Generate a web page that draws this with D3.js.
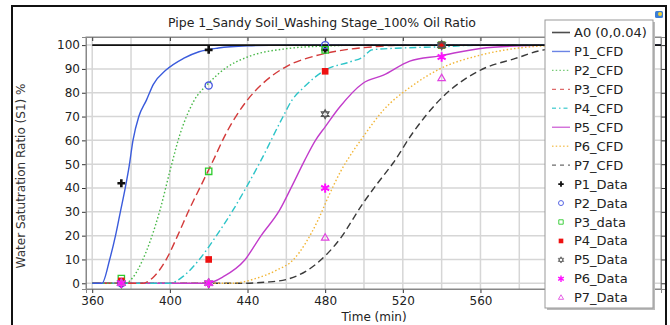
<!DOCTYPE html>
<html>
<head>
<meta charset="utf-8">
<script src="https://cdn.jsdelivr.net/npm/d3@7"></script>
<style>
    body { margin: 0; background: #fff; }
    svg text { font-family: "DejaVu Sans", sans-serif; }
</style>
</head>
<body>
<svg id="chart" width="670" height="325"></svg>
<script>
// CFD curves, [time (min), water saturation %]
const a0Line = [[360, 100], [653, 100]];
const p1Cfd = [[360, 0], [365, 0], [369, 10], [372, 20], [374.5, 30], [377, 40], [379, 49], [381, 60],
    [384, 70], [388, 77], [391.5, 83.5], [398, 89.5], [407, 94.4], [415, 97.2], [425, 98.8], [440, 99.7], [460, 100], [653, 100]];
const p2Cfd = [[360, 0], [377, 0], [381, 2.5], [386, 9.8], [390, 18], [395, 31], [400, 47], [405, 62],
    [412, 76], [420, 84], [429, 90.5], [440, 95], [460, 98.5], [480, 99.6], [500, 100], [653, 100]];
const p3Cfd = [[360, 0], [386, 0], [392, 3], [398, 9.8], [404, 20], [410, 31], [416, 41], [422, 51],
    [429, 63], [439.5, 76.5], [448, 84], [460, 91], [475, 95.5], [490, 98], [505, 99.3], [520, 100], [653, 100]];
const p4Cfd = [[360, 0], [400, 0], [407, 3], [415, 9.8], [424, 20], [432.6, 30.8], [439.5, 40.5], [447, 51.7],
    [458, 69.5], [463, 77], [468, 81.5], [480, 89.5], [493, 93], [499.5, 95], [504, 98], [520, 98.8], [540, 99.3], [560, 100], [653, 100]];
const p5Cfd = [[360, 0], [419, 0], [428, 3], [438.6, 9.8], [447, 20], [456.6, 30.8], [463, 41], [469.5, 51.7],
    [475, 60], [480, 65.7], [487.5, 74], [499.5, 84], [510, 87.4], [523.6, 93.3], [539, 95.5], [560, 98.6], [580, 99.7], [600, 100], [653, 100]];
const p6Cfd = [[360, 0], [432, 0], [444.6, 2.1], [455, 5.5], [463.5, 9.8], [470, 17], [476, 26], [482, 37],
    [488, 47], [494, 55], [500, 62], [510, 72.7], [525, 83], [539, 90], [560, 95.8], [578, 98.6], [594, 99.7], [610, 100], [653, 100]];
const p7Cfd = [[360, 0], [436, 0], [450, 0.5], [460, 1.6], [470, 5], [480, 11.5], [487.5, 18.5], [499.5, 33.6],
    [507, 42], [515, 50.5], [525, 63], [539, 77], [560, 89.5], [578, 94.4], [592, 97.9], [610, 99.3], [630, 99.9], [653, 100]];

// measured points
const dataTimes = [375, 420, 480, 540];
const p1Data = [42, 98, 98, 100];
const p2Data = [0, 83, 100, 100];
const p3Data = [2, 47, 98, 100];
const p4Data = [1, 10, 89, 100];
const p5Data = [0, 0, 71, 100];
const p6Data = [0, 0, 40, 95];
const p7Data = [0, 0, 19, 86];

const xTicks = [360, 400, 440, 480, 520, 560];
const yTicks = [0, 10, 20, 30, 40, 50, 60, 70, 80, 90, 100];

const title = "Pipe 1_Sandy Soil_Washing Stage_100% Oil Ratio";

const svg = d3.select("#chart");

const LEFT = 86, RIGHT = 661, TOP = 37, BOTTOM = 289;

const x = d3.scaleLinear().domain([356.8, 653]).range([LEFT, RIGHT]);
const y = d3.scaleLinear().domain([-2.4, 103.4]).range([BOTTOM, TOP]);

// outer frame
svg.append("path")
    .attr("d", "M12,330 L12,6 L666,6 L666,330")
    .attr("fill", "none")
    .attr("stroke", "#111")
    .attr("stroke-width", 2);

// title
svg.append("text")
    .attr("x", 322).attr("y", 27)
    .attr("text-anchor", "middle")
    .attr("font-size", 12.5)
    .attr("fill", "#222")
    .text(title);

// grid
const gridG = svg.append("g");
gridG.selectAll("line.gx").data(d3.range(360, 653, 20)).enter()
    .append("line")
    .attr("x1", d => x(d)).attr("x2", d => x(d))
    .attr("y1", TOP).attr("y2", BOTTOM)
    .attr("stroke", "#d6d6d6").attr("stroke-width", 1.5);
gridG.selectAll("line.gy").data(yTicks).enter()
    .append("line")
    .attr("x1", LEFT).attr("x2", RIGHT)
    .attr("y1", d => y(d)).attr("y2", d => y(d))
    .attr("stroke", "#d6d6d6").attr("stroke-width", 1.5);

// axes
const axisG = svg.append("g");
axisG.append("g")
    .attr("transform", "translate(0," + BOTTOM + ")")
    .call(d3.axisBottom(x).tickValues(xTicks).tickSize(4).tickPadding(3));
axisG.append("g")
    .attr("transform", "translate(" + LEFT + ",0)")
    .call(d3.axisLeft(y).tickValues(yTicks).tickSize(4).tickPadding(2));
axisG.append("g")
    .attr("transform", "translate(0," + TOP + ")")
    .call(d3.axisTop(x).tickValues(xTicks).tickSize(-4).tickFormat(""));
axisG.append("g")
    .attr("transform", "translate(" + RIGHT + ",0)")
    .call(d3.axisRight(y).tickValues(yTicks).tickSize(4).tickFormat(""));

axisG.selectAll(".domain").attr("stroke", "#888");
axisG.selectAll(".tick line").attr("stroke", "#333");
axisG.selectAll(".tick text").attr("font-size", 12).attr("fill", "#222")
    .style("font-family", "DejaVu Sans, sans-serif");
// the axis domain paths only draw a side each; close the box
svg.append("rect")
    .attr("x", LEFT).attr("y", TOP)
    .attr("width", RIGHT - LEFT).attr("height", BOTTOM - TOP)
    .attr("fill", "none").attr("stroke", "#888");

// axis labels
svg.append("text")
    .attr("transform", "translate(25,176) rotate(-90)")
    .attr("text-anchor", "middle")
    .attr("font-size", 12)
    .attr("fill", "#333")
    .text("Water Satutration Ratio (S1) %");
svg.append("text")
    .attr("x", 374).attr("y", 321)
    .attr("text-anchor", "middle")
    .attr("font-size", 12)
    .attr("fill", "#222")
    .text("Time (min)");

// curves
const curves = [
    {name: "A0 (0,0.04)", data: a0Line, color: "#111", dash: null, width: 1.6},
    {name: "P1_CFD", data: p1Cfd, color: "#3a5bdc", dash: null, width: 1.4},
    {name: "P2_CFD", data: p2Cfd, color: "#48b848", dash: "1.5,2.2", width: 1.4},
    {name: "P3_CFD", data: p3Cfd, color: "#d33a3a", dash: "8,4", width: 1.4},
    {name: "P4_CFD", data: p4Cfd, color: "#2cc4c8", dash: "7,3,1.5,3", width: 1.4},
    {name: "P5_CFD", data: p5Cfd, color: "#c23ccb", dash: null, width: 1.4},
    {name: "P6_CFD", data: p6Cfd, color: "#f2b535", dash: "1.5,2.2", width: 1.4},
    {name: "P7_CFD", data: p7Cfd, color: "#3a3a3a", dash: "7,4", width: 1.4}
];

const line = d3.line()
    .x(d => x(d[0]))
    .y(d => y(d[1]))
    .curve(d3.curveMonotoneX);

const plotG = svg.append("g");
// draw the later series first so P1 and A0 sit on top at 0 / 100
curves.slice().reverse().forEach(c => {
    plotG.append("path")
        .attr("d", line(c.data))
        .attr("fill", "none")
        .attr("stroke", c.color)
        .attr("stroke-width", c.width)
        .attr("stroke-dasharray", c.dash);
});

// marker shapes
const hexagram = (r) => {
    const pts = (rot) => d3.range(3).map(i => {
        const a = rot + i * 2 * Math.PI / 3;
        return [r * Math.sin(a), -r * Math.cos(a)];
    });
    const tri = p => "M" + p.map(q => q[0].toFixed(2) + "," + q[1].toFixed(2)).join("L") + "Z";
    return tri(pts(0)) + tri(pts(Math.PI));
};

const markers = [
    {name: "P1_Data", values: p1Data, path: d3.symbol(d3.symbolCross, 34)(), fill: "#111", stroke: "none", sw: 0},
    {name: "P2_Data", values: p2Data, path: d3.symbol(d3.symbolCircle, 40)(), fill: "none", stroke: "#4656e0", sw: 1.3},
    {name: "P3_data", values: p3Data, path: d3.symbol(d3.symbolSquare, 40)(), fill: "none", stroke: "#2ecc2e", sw: 1.3},
    {name: "P4_Data", values: p4Data, path: d3.symbol(d3.symbolSquare, 44)(), fill: "#ee1111", stroke: "none", sw: 0},
    {name: "P5_Data", values: p5Data, path: hexagram(4.5), fill: "none", stroke: "#555", sw: 1.1},
    {name: "P6_Data", values: p6Data, path: d3.symbol(d3.symbolAsterisk, 60)(), fill: "none", stroke: "#ff10ff", sw: 2},
    {name: "P7_Data", values: p7Data, path: d3.symbol(d3.symbolTriangle2, 40)(), fill: "none", stroke: "#e044e0", sw: 1.2}
];

const markG = svg.append("g");
markers.forEach(m => {
    markG.selectAll(null).data(m.values.map((v, i) => [dataTimes[i], v])).enter()
        .append("path")
        .attr("d", m.path)
        .attr("transform", d => "translate(" + x(d[0]) + "," + y(d[1]) + ")")
        .attr("fill", m.fill)
        .attr("stroke", m.stroke)
        .attr("stroke-width", m.sw);
});

// legend
const LX = 545, LY = 20, LW = 108, LH = 288;
const legendG = svg.append("g");
legendG.append("rect")
    .attr("x", LX + 2).attr("y", LY + 2).attr("width", LW).attr("height", LH)
    .attr("fill", "#bbb");
legendG.append("rect")
    .attr("x", LX).attr("y", LY).attr("width", LW).attr("height", LH)
    .attr("fill", "#fff").attr("stroke", "#999");

const rowY = i => LY + 12.5 + i * 18.95;

curves.forEach((c, i) => {
    legendG.append("line")
        .attr("x1", LX + 7).attr("x2", LX + 25)
        .attr("y1", rowY(i)).attr("y2", rowY(i))
        .attr("stroke", c.color)
        .attr("stroke-opacity", 0.75)
        .attr("stroke-width", c.width)
        .attr("stroke-dasharray", c.dash ? c.dash.split(",").map(v => Math.min(+v, 4)).join(",") : null);
    legendG.append("text")
        .attr("x", LX + 29).attr("y", rowY(i) + 4.5)
        .attr("font-size", 13).attr("fill", "#222")
        .text(c.name);
});
markers.forEach((m, j) => {
    const i = j + curves.length;
    legendG.append("path")
        .attr("d", m.path)
        .attr("transform", "translate(" + (LX + 16) + "," + rowY(i) + ") scale(0.7)")
        .attr("fill", m.fill)
        .attr("stroke", m.stroke)
        .attr("stroke-width", m.sw);
    legendG.append("text")
        .attr("x", LX + 29).attr("y", rowY(i) + 4.5)
        .attr("font-size", 13).attr("fill", "#222")
        .text(m.name);
});

// small window icon in the corner
svg.append("rect").attr("x", 655).attr("y", 11).attr("width", 8).attr("height", 7)
    .attr("rx", 1.5).attr("fill", "#3d7fd6");
svg.append("circle").attr("cx", 660).attr("cy", 14).attr("r", 2).attr("fill", "#f2d232");
</script>
</body>
</html>
